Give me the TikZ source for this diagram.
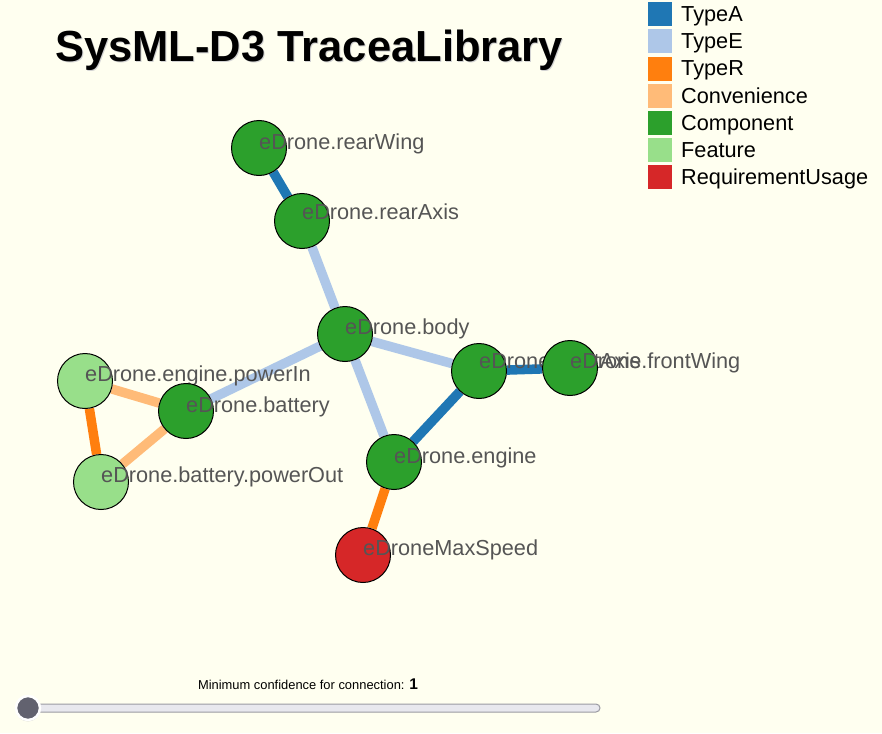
\documentclass[tikz,border=0pt]{standalone}
\usepackage{fontspec}
\setmainfont{Liberation Sans}
\usetikzlibrary{backgrounds,shadows}
\definecolor{graphbg}{HTML}{FFFFF0}
\definecolor{typea}{HTML}{1F77B4}
\definecolor{typee}{HTML}{AEC7E8}
\definecolor{typer}{HTML}{FF7F0E}
\definecolor{convenience}{HTML}{FFBB78}
\definecolor{component}{HTML}{2CA02C}
\definecolor{feature}{HTML}{98DF8A}
\definecolor{requsage}{HTML}{D62728}
\definecolor{labelink}{HTML}{555555}
\definecolor{trackfill}{HTML}{E8E8EE}
\definecolor{trackline}{HTML}{9A9AA2}
\definecolor{thumbfill}{HTML}{62626F}
\tikzset{
  graphnode/.style={circle, draw=black, line width=1pt, minimum size=55pt, inner sep=0pt},
  componentnode/.style={graphnode, fill=component},
  featurenode/.style={graphnode, fill=feature},
  requirementnode/.style={graphnode, fill=requsage},
  nodelabel/.style={anchor=base west, inner sep=0pt, text=labelink,
    font=\fontsize{21.7}{26}\selectfont},
  legendbox/.style={minimum size=24pt, inner sep=0pt, anchor=north west},
  legendtext/.style={anchor=base west, inner sep=0pt, text=black,
    font=\fontsize{21.7}{26}\selectfont},
  titletext/.style={anchor=base west, inner sep=0pt,
    font=\fontsize{43.5}{52}\selectfont\bfseries},
  linkA/.style={draw=typea, line width=9.5pt},
  linkE/.style={draw=typee, line width=9.5pt},
  linkR/.style={draw=typer, line width=9.5pt},
  linkC/.style={draw=convenience, line width=9.5pt}
}

\begin{document}
\begin{tikzpicture}[x=1pt,y=-1pt]
  \useasboundingbox (0,0) rectangle (882,733);
  \begin{pgfonlayer}{background}
    \fill[graphbg] (0,0) rectangle (882,733);
  \end{pgfonlayer}

  \node[titletext, text=black!18] (title-shadow) at (56,63) {SysML-D3 TraceaLibrary};
  \node[titletext] (title) at (55,62) {SysML-D3 TraceaLibrary};

  % nodes with their labels, drawn in data order
  \node[componentnode] (rearWing) at (259,148) {};
  \node[nodelabel] (rearWing-t) at (259,149) {eDrone.rearWing};
  \node[componentnode] (rearAxis) at (302,221) {};
  \node[nodelabel] (rearAxis-t) at (302,219) {eDrone.rearAxis};
  \node[componentnode] (body) at (345,334) {};
  \node[nodelabel] (body-t) at (345,334) {eDrone.body};
  \node[componentnode] (frontAxis) at (479,371) {};
  \node[nodelabel] (frontAxis-t) at (479,368) {eDrone.frontAxis};
  \node[componentnode] (frontWing) at (570,368) {};
  \node[nodelabel] (frontWing-t) at (570,368) {eDrone.frontWing};
  \node[componentnode] (engine) at (394,462) {};
  \node[nodelabel] (engine-t) at (394,463) {eDrone.engine};
  \node[requirementnode] (maxSpeed) at (363,555) {};
  \node[nodelabel] (maxSpeed-t) at (363,555) {eDroneMaxSpeed};
  \node[featurenode] (powerIn) at (85,381) {};
  \node[nodelabel] (powerIn-t) at (85,381) {eDrone.engine.powerIn};
  \node[componentnode] (battery) at (186,411) {};
  \node[nodelabel] (battery-t) at (186,412) {eDrone.battery};
  \node[featurenode] (powerOut) at (101,482) {};
  \node[nodelabel] (powerOut-t) at (101,482) {eDrone.battery.powerOut};

  % connections
  \begin{pgfonlayer}{background}
    \draw[linkA] (rearWing) -- (rearAxis);
    \draw[linkE] (rearAxis) -- (body);
    \draw[linkE] (body) -- (frontAxis);
    \draw[linkE] (body) -- (engine);
    \draw[linkE] (body) -- (battery);
    \draw[linkA] (frontAxis) -- (frontWing);
    \draw[linkA] (frontAxis) -- (engine);
    \draw[linkR] (engine) -- (maxSpeed);
    \draw[linkC] (powerIn) -- (battery);
    \draw[linkC] (battery) -- (powerOut);
    \draw[linkR] (powerIn) -- (powerOut);
  \end{pgfonlayer}

  % legend
  \foreach \name/\col [count=\i from 0] in {TypeA/typea, TypeE/typee, TypeR/typer,
      Convenience/convenience, Component/component, Feature/feature,
      RequirementUsage/requsage} {
    \node[legendbox, fill=\col] (leg-\i) at (648,2+27.2*\i) {};
    \node[legendtext] (legtext-\i) at (681,21.5+27.2*\i) {\name};
  }

  % confidence slider
  \node[anchor=base, inner sep=0pt, font=\fontsize{12.9}{15}\selectfont]
    (sliderlabel) at (308,689) {Minimum confidence for connection: \textbf{\fontsize{15.5}{18}\selectfont 1}};
  \draw[fill=trackfill, draw=trackline, line width=1pt, rounded corners=4pt]
    (18,704) rectangle (600,712);
  \node[circle, fill=thumbfill, draw=white, line width=2.5pt, minimum size=24pt,
    inner sep=0pt, drop shadow={opacity=0.3, shadow xshift=0pt, shadow yshift=-1.5pt}]
    (thumb) at (28,708) {};
\end{tikzpicture}
\end{document}
